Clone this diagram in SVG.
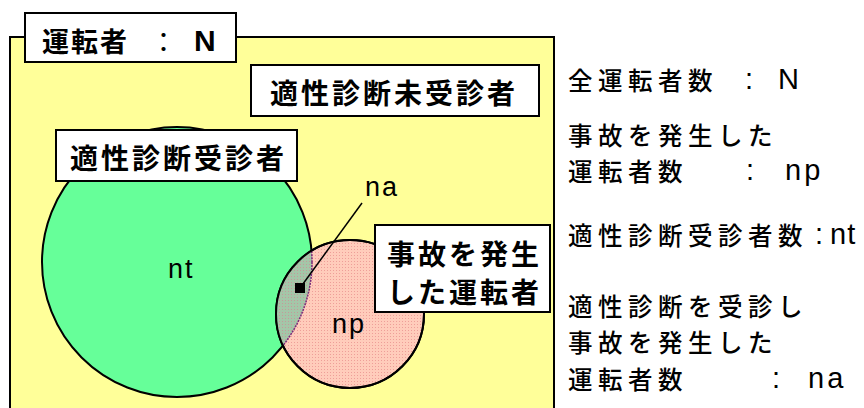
<svg xmlns="http://www.w3.org/2000/svg" width="864" height="408" viewBox="0 0 864 408">
<style>
.box{fill:#ffffff;stroke:#000;stroke-width:2}
.jb{font-family:"Noto Sans CJK JP",sans-serif;font-weight:bold;font-size:28px;letter-spacing:3px;fill:#000}
.jn{font-family:"Noto Sans CJK JP",sans-serif;font-weight:500;font-size:24.5px;letter-spacing:5.5px;fill:#000}
.lat{font-family:"Liberation Sans",Arial,sans-serif;font-size:29px;fill:#000}
.cl{font-family:"Liberation Sans",Arial,sans-serif;font-size:27px;letter-spacing:2px;fill:#000}
</style>
<defs>
<pattern id="pinkDots" width="3" height="3" patternUnits="userSpaceOnUse"><rect width="3" height="3" fill="#FFCCBB"/><rect width="1" height="1" fill="#EE9E98"/></pattern>
<pattern id="grayDots" width="3" height="3" patternUnits="userSpaceOnUse"><rect width="3" height="3" fill="#A4C6A8"/><rect width="1" height="1" fill="#C49A9A"/></pattern>
<clipPath id="pinkClip"><circle cx="350" cy="314" r="74"/></clipPath>
</defs>
<rect width="864" height="408" fill="#ffffff"/>

<g id="universe">
<rect x="10" y="37" width="544" height="400" fill="#FFFF99" stroke="#000" stroke-width="2"/>
</g>

<g id="set-nt">
<circle cx="177" cy="262" r="135" fill="#66FF99" stroke="#000" stroke-width="2"/>
<text class="cl" x="168" y="278">nt</text>
</g>

<g id="set-np">
<circle cx="350" cy="314" r="74" fill="url(#pinkDots)" stroke="#000" stroke-width="2"/>
<text class="cl" x="332" y="333">np</text>
</g>

<g id="set-na">
<circle cx="177" cy="262" r="135" fill="url(#grayDots)" clip-path="url(#pinkClip)"/>
<circle cx="177" cy="262" r="135" fill="none" stroke="#7A2A7A" stroke-width="1.5" stroke-dasharray="2 1" clip-path="url(#pinkClip)"/>
<circle cx="350" cy="314" r="74" fill="none" stroke="#000" stroke-width="2"/>
<rect x="295" y="283" width="10" height="10" fill="#000"/>
<text class="cl" x="365" y="196">na</text>
</g>

<g id="connectors">
<line x1="362" y1="203" x2="300" y2="288" stroke="#000" stroke-width="1.5"/>
</g>

<g id="title-box">
<rect class="box" x="25" y="13" width="211" height="49"/>
<text class="jb" x="42" y="40" dominant-baseline="central" style="font-size:27px;letter-spacing:2px">運転者</text>
<text class="jb" x="150" y="40" dominant-baseline="central" style="font-size:27px;font-weight:normal">：</text>
<text class="lat" x="194" y="51" font-weight="bold" style="font-size:30px">N</text>
</g>

<g id="unexamined-box">
<rect class="box" x="251" y="65" width="288" height="51"/>
<text class="jb" x="270" y="92" dominant-baseline="central">適性診断未受診者</text>
</g>

<g id="examined-box">
<rect class="box" x="56" y="130" width="241" height="51"/>
<text class="jb" x="70" y="157" dominant-baseline="central">適性診断受診者</text>
</g>

<g id="accident-box">
<rect class="box" x="375" y="225" width="175" height="87"/>
<text class="jb" x="387" y="253" dominant-baseline="central">事故を発生</text>
<text class="jb" x="387" y="291" dominant-baseline="central">した運転者</text>
</g>

<g id="legend">
<text class="jn" x="568" y="79" dominant-baseline="central">全運転者数</text>
<text class="lat" x="745" y="89">:</text>
<text class="lat" x="778" y="89">N</text>
<text class="jn" x="568" y="134" dominant-baseline="central">事故を発生した</text>
<text class="jn" x="568" y="170" dominant-baseline="central">運転者数</text>
<text class="lat" x="746" y="180">:</text>
<text class="lat" x="785" y="180" style="letter-spacing:3px">np</text>
<text class="jn" x="568" y="234" dominant-baseline="central">適性診断受診者数</text>
<text class="lat" x="815" y="244">:</text>
<text class="lat" x="830" y="244" style="letter-spacing:1px">nt</text>
<text class="jn" x="568" y="305" dominant-baseline="central">適性診断を受診し</text>
<text class="jn" x="568" y="341" dominant-baseline="central">事故を発生した</text>
<text class="jn" x="568" y="378" dominant-baseline="central">運転者数</text>
<text class="lat" x="772" y="388">:</text>
<text class="lat" x="808" y="388" style="letter-spacing:3px">na</text>
</g>
</svg>
